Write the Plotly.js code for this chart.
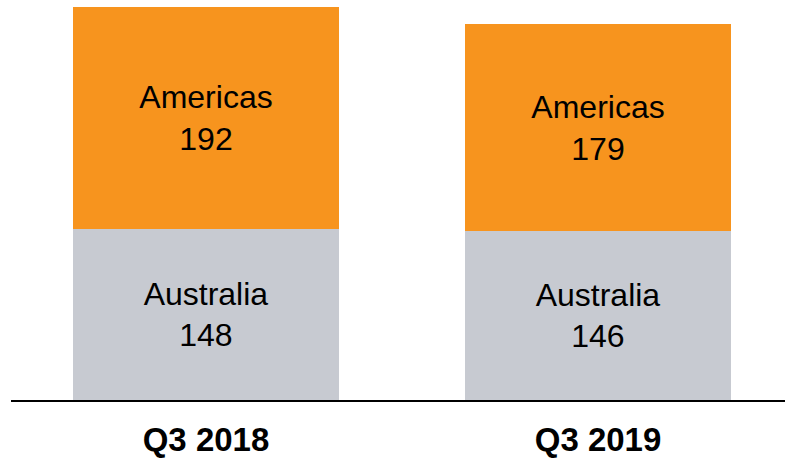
<!DOCTYPE html>
<html>
<head>
<meta charset="utf-8">
<script src="https://cdn.plot.ly/plotly-3.0.1.min.js"></script>
<style>html,body{margin:0;padding:0;background:#fff;}#chart{width:785px;height:460px;}</style>
</head>
<body>
<div id="chart"></div>
<script>
const categories = ["Q3 2018", "Q3 2019"];
const seriesNames = ["Australia", "Americas"];
const australia = [148, 146];
const americas = [192, 179];

const colors = {Australia: "rgb(199,202,209)", Americas: "rgb(247,148,30)"};
const seriesValues = [australia, americas];

const traces = seriesNames.map((name, i) => ({
  type: "bar",
  name: name,
  x: categories,
  y: seriesValues[i],
  text: seriesValues[i].map(v => name + "<br>" + v),
  textposition: "inside",
  insidetextanchor: "middle",
  textangle: 0,
  constraintext: "none",
  textfont: {family: "Liberation Sans, Arial, sans-serif", size: 32, color: "#000"},
  marker: {color: colors[name], line: {width: 0}},
  width: 0.679,
  hoverinfo: "none"
}));

const layout = {
  width: 785, height: 460,
  margin: {l: 11, r: 0, t: 0, b: 60, pad: 0},
  paper_bgcolor: "#fff", plot_bgcolor: "#fff",
  barmode: "stack",
  showlegend: false,
  xaxis: {
    type: "category",
    range: [-0.4974, 1.477],
    showline: true, linecolor: "#000", linewidth: 2,
    showgrid: false, zeroline: false,
    ticks: "", ticklabelstandoff: 9,
    tickfont: {family: "Liberation Sans, Arial, sans-serif", size: 33, color: "#000", weight: "bold"}
  },
  yaxis: {
    range: [0, 346.1],
    visible: false, showgrid: false, zeroline: false
  }
};

Plotly.newPlot("chart", traces, layout, {displayModeBar: false, staticPlot: true});
</script>
</body>
</html>
